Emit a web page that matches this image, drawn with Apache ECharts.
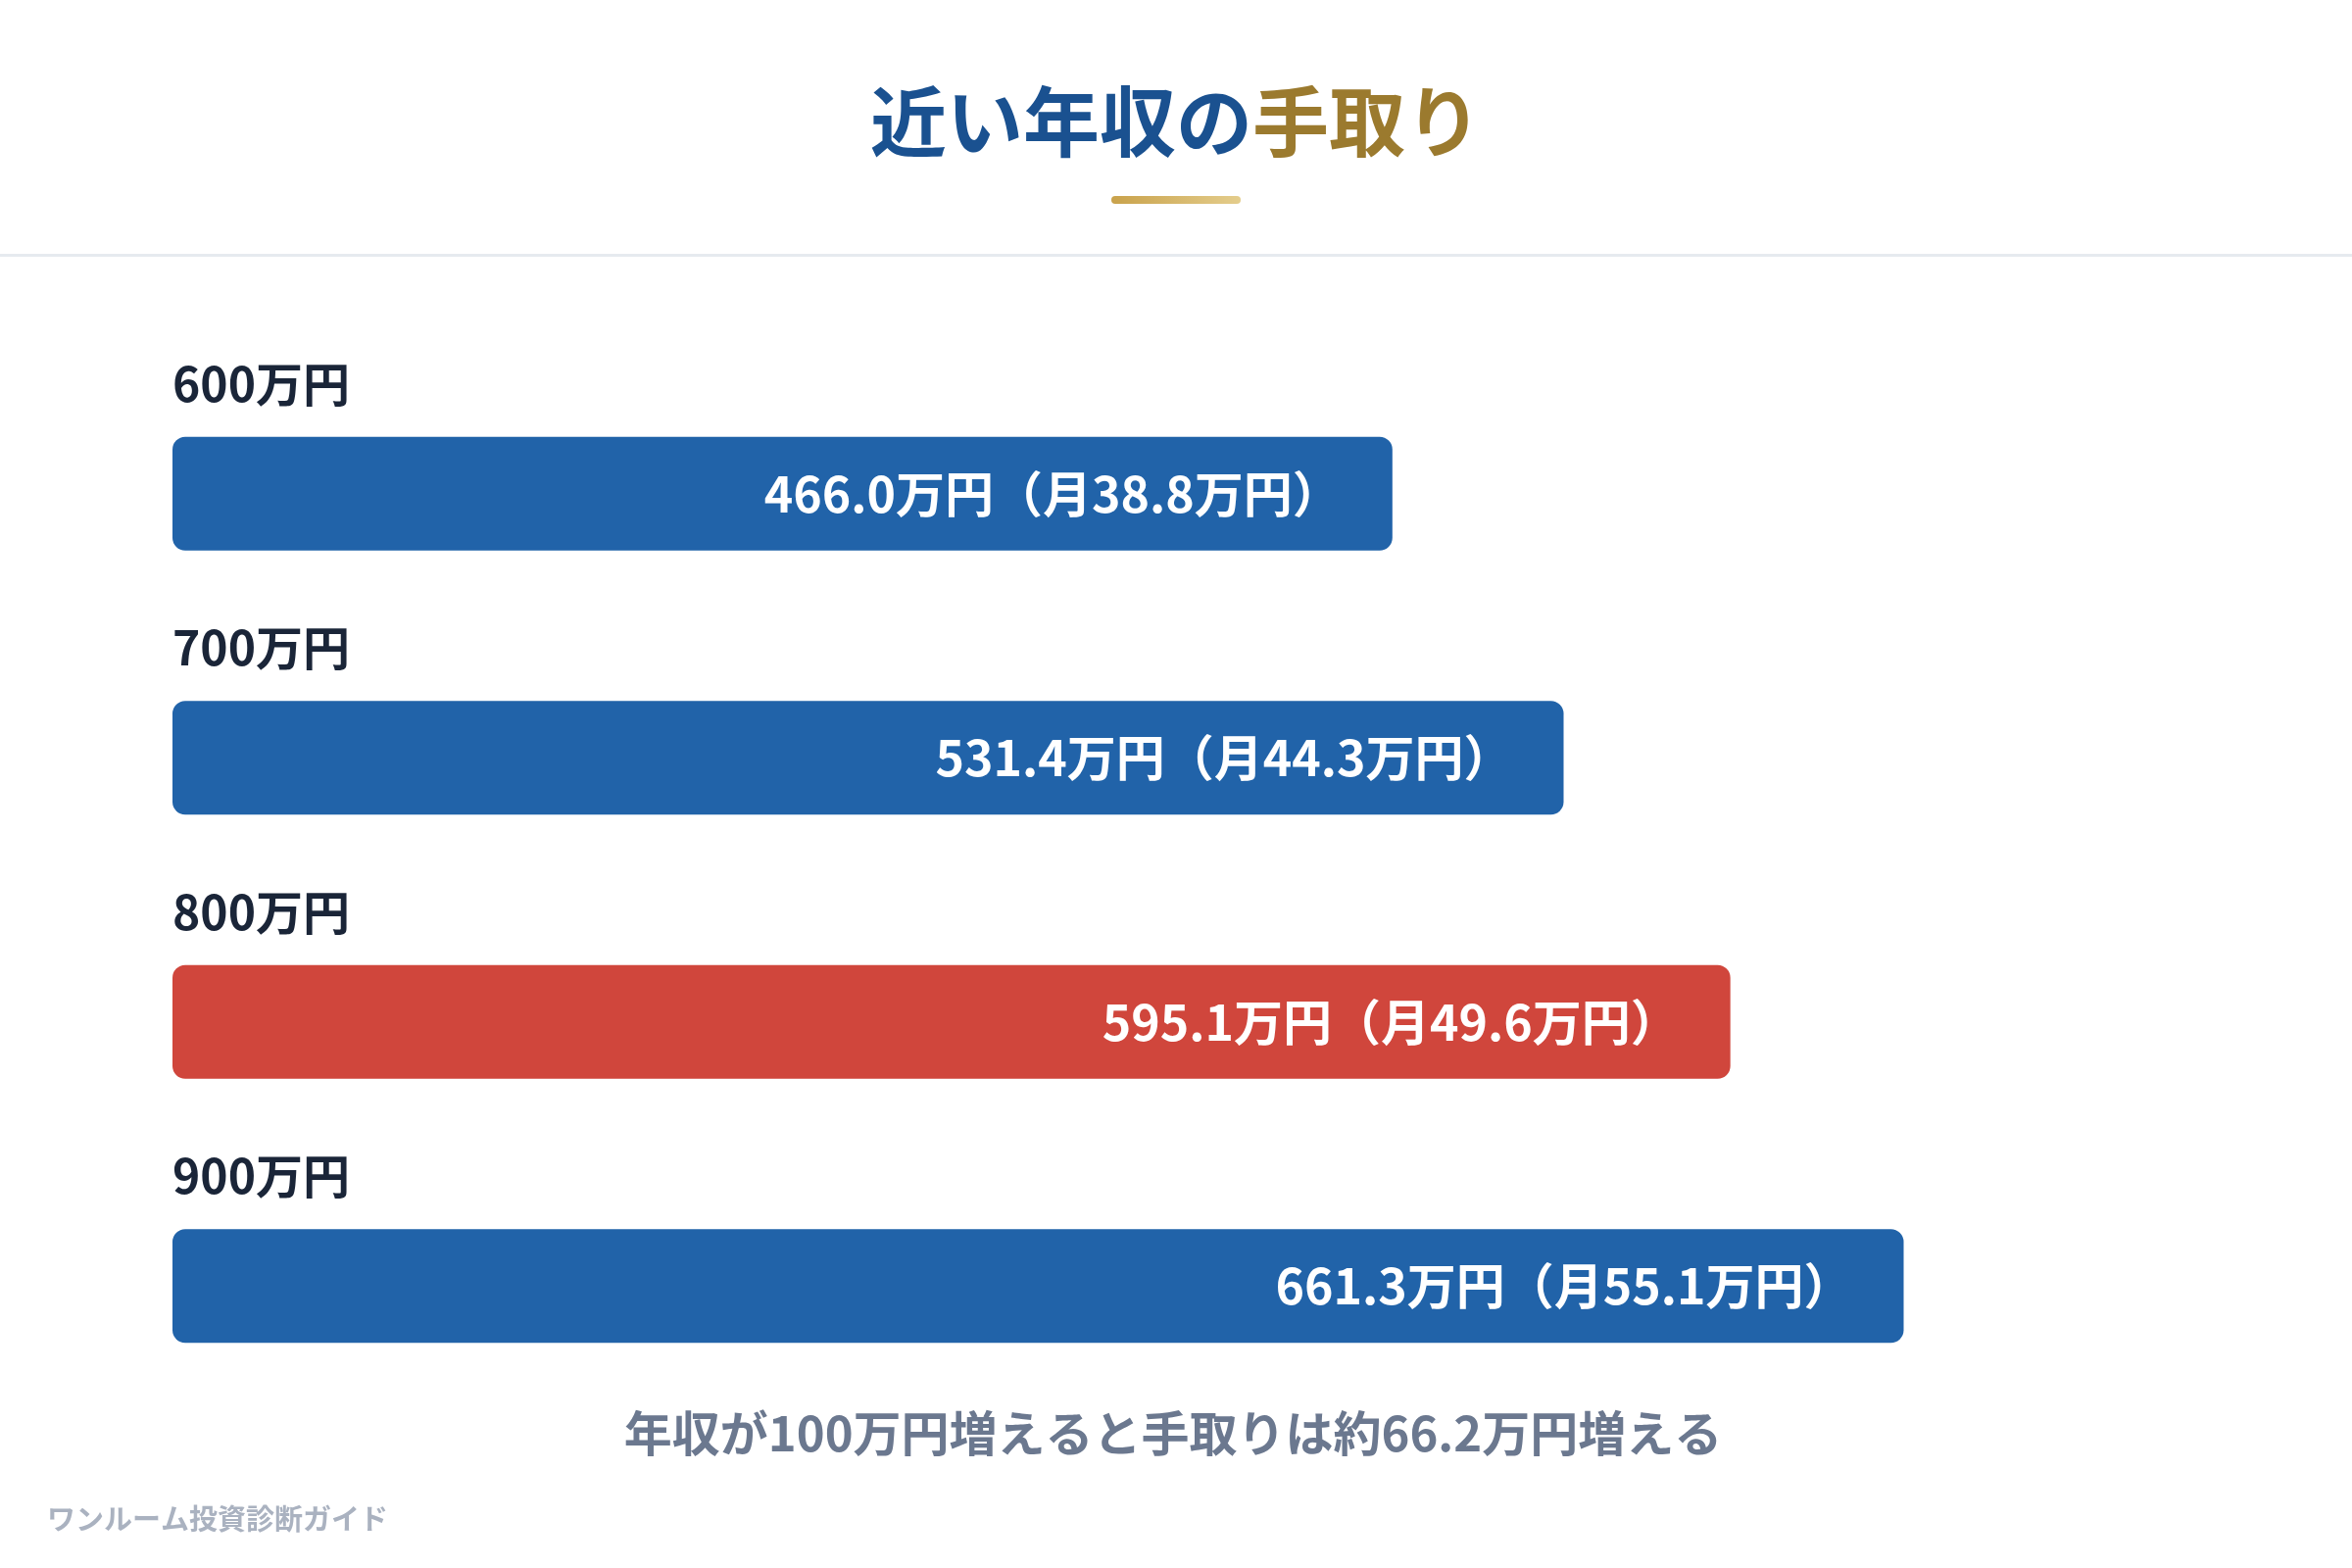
<!DOCTYPE html>
<html>
<head>
<meta charset="utf-8">
<script src="https://cdn.jsdelivr.net/npm/echarts@6/dist/echarts.min.js"></script>
<style>
  html, body { margin: 0; padding: 0; background: #fff; }
  #chart { width: 2400px; height: 1600px; }
</style>
</head>
<body>
<div id="chart"></div>
<script>
// 年収カテゴリ
const categories = ['600万円', '700万円', '800万円', '900万円'];
// 手取り（年額・万円）
const takeHome = [466.0, 531.4, 595.1, 661.3];
// 手取り（月額・万円）
const monthly = [38.8, 44.3, 49.6, 55.1];
// 強調するバー（800万円）
const highlightIndex = 2;

const FONT = '"Noto Sans CJK JP", "Noto Sans", sans-serif';
const BLUE = '#2163A9';
const RED = '#D0463C';

let chart = echarts.init(document.getElementById('chart'));

let option = {
  backgroundColor: '#ffffff',
  animation: false,
  title: {   // タイトル
    text: '{a|近い年収の}{b|手取り}',
    left: 'center',
    top: 80,
    textStyle: {
      rich: {
        a: { color: '#1A5190', fontSize: 78, fontWeight: 'bold', fontFamily: FONT },
        b: { color: '#9B7A2E', fontSize: 78, fontWeight: 'bold', fontFamily: FONT }
      }
    }
  },
  grid: {
    left: 176,
    right: 87,
    top: 369,
    bottom: 153
  },
  xAxis: {
    type: 'value',
    min: 0,
    max: 800,
    show: false
  },
  yAxis: {
    type: 'category',
    inverse: true,
    data: categories,
    show: false
  },
  series: [
    {   // 手取りバー
      type: 'bar',
      barWidth: 116,
      data: takeHome.map((v, i) => ({
        value: v,
        itemStyle: { color: i === highlightIndex ? RED : BLUE }
      })),
      itemStyle: { borderRadius: 13 },
      label: {
        show: true,
        position: 'insideRight',
        distance: 52,
        color: '#ffffff',
        fontSize: 50,
        fontWeight: 'bold',
        fontFamily: FONT,
        formatter: p => p.value.toFixed(1) + '万円（月' + monthly[p.dataIndex].toFixed(1) + '万円）'
      },
      silent: true
    },
    {   // 年収ラベル（バーの上に表示するだけ）
      type: 'bar',
      barWidth: 116,
      barGap: '-100%',
      data: takeHome,
      itemStyle: { color: 'rgba(0,0,0,0)' },
      label: {
        show: true,
        position: [0, -54],
        align: 'left',
        verticalAlign: 'middle',
        color: '#1A2538',
        fontSize: 48,
        fontWeight: 'bold',
        fontFamily: FONT,
        formatter: p => categories[p.dataIndex]
      },
      silent: true
    }
  ],
  graphic: [
    {   // タイトル下の金色ライン
      type: 'rect',
      shape: { x: 1134, y: 200, width: 132, height: 8, r: 4 },
      style: {
        fill: new echarts.graphic.LinearGradient(0, 0, 1, 0, [
          { offset: 0, color: '#C9A24B' },
          { offset: 1, color: '#E4CD8C' }
        ])
      }
    },
    {   // 区切り線
      type: 'rect',
      shape: { x: 0, y: 259, width: 2400, height: 3 },
      style: { fill: '#E6EAEF' }
    },
    {   // まとめ
      type: 'text',
      x: 1197,
      y: 1462,
      style: {
        text: '年収が100万円増えると手取りは約66.2万円増える',
        align: 'center',
        verticalAlign: 'middle',
        fill: '#6B788F',
        fontSize: 49,
        fontWeight: 'bold',
        fontFamily: FONT
      }
    },
    {   // フッター
      type: 'text',
      x: 48,
      y: 1550,
      style: {
        text: 'ワンルーム投資診断ガイド',
        align: 'left',
        verticalAlign: 'middle',
        fill: '#AAB2C0',
        fontSize: 29,
        fontWeight: 'bold',
        fontFamily: FONT
      }
    }
  ]
};

chart.setOption(option);
</script>
</body>
</html>
